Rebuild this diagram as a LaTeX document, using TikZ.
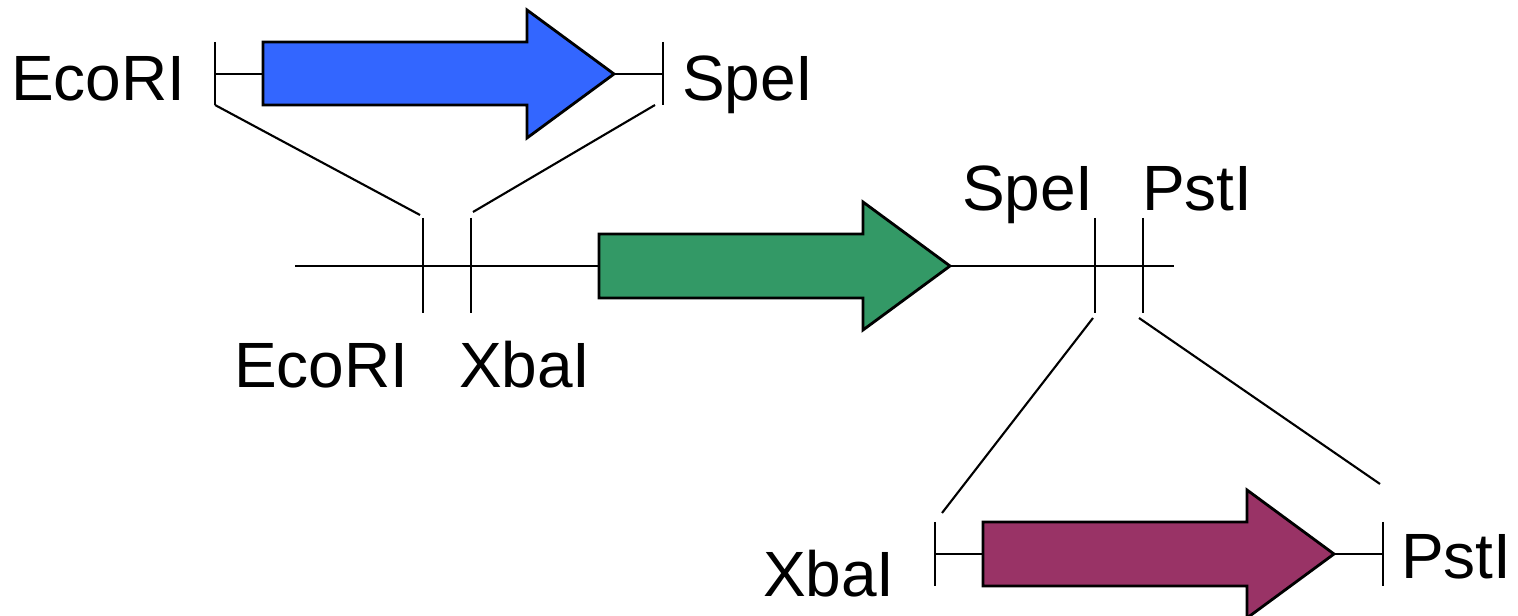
\documentclass[tikz,border=0pt]{standalone}
\usepackage{fontspec}
\setmainfont{Liberation Sans}
\definecolor{geneblue}{HTML}{3366FF}
\definecolor{genegreen}{HTML}{339966}
\definecolor{genepurple}{HTML}{993366}
\begin{document}
\begin{tikzpicture}[x=0.01cm,y=-0.01cm, line width=0.6pt,
  lbl/.style={anchor=base west, inner sep=0pt, font=\fontsize{18.2}{22}\selectfont},
  gene/.style={draw=black, line width=0.8pt, line join=miter}]
\useasboundingbox (0,0) rectangle (1518,616);

% ---------- top part ----------
\coordinate (tEt) at (215,42);  \coordinate (tEb) at (215,105); \coordinate (tEm) at (215,74);
\coordinate (tSt) at (663,42);  \coordinate (tSb) at (663,105); \coordinate (tSm) at (663,74);
\coordinate (blueL) at (263,74); \coordinate (blueT) at (614,74);
\draw (tEt) -- (tEb);
\draw (tSt) -- (tSb);
\draw (tEm) -- (blueL);
\draw (blueT) -- (tSm);
\path[gene, fill=geneblue] (263,42) -- (527,42) -- (527,10) -- (blueT) -- (527,138) -- (527,105) -- (263,105) -- cycle;
\node[lbl] (lEcoTop) at (10,101) {EcoRI};
\node[lbl] (lSpeTop) at (681,101) {SpeI};

% ---------- middle part ----------
\coordinate (mL) at (295,266);
\coordinate (mR) at (1174,266);
\coordinate (mEt) at (423,218); \coordinate (mEb) at (423,313);
\coordinate (mXt) at (471,218); \coordinate (mXb) at (471,313);
\coordinate (mSt) at (1095,218); \coordinate (mSb) at (1095,313);
\coordinate (mPt) at (1143,218); \coordinate (mPb) at (1143,313);
\coordinate (greenL) at (599,266); \coordinate (greenT) at (950,266);
\draw (mL) -- (greenL);
\draw (greenT) -- (mR);
\draw (mEt) -- (mEb);
\draw (mXt) -- (mXb);
\draw (mSt) -- (mSb);
\draw (mPt) -- (mPb);
\path[gene, fill=genegreen] (599,234) -- (863,234) -- (863,202) -- (greenT) -- (863,330) -- (863,298) -- (599,298) -- cycle;
\node[lbl] (lEcoMid) at (233,388) {EcoRI};
\node[lbl] (lXbaMid) at (458,388) {XbaI};
\node[lbl] (lSpeMid) at (961,211) {SpeI};
\node[lbl] (lPstMid) at (1141,211) {PstI};

% ---------- bottom part ----------
\coordinate (bXt) at (935,522); \coordinate (bXb) at (935,586); \coordinate (bXm) at (935,554);
\coordinate (bPt) at (1383,522); \coordinate (bPb) at (1383,586); \coordinate (bPm) at (1383,554);
\coordinate (purpleL) at (983,554); \coordinate (purpleT) at (1334,554);
\draw (bXt) -- (bXb);
\draw (bPt) -- (bPb);
\draw (bXm) -- (purpleL);
\draw (purpleT) -- (bPm);
\path[gene, fill=genepurple] (983,522) -- (1247,522) -- (1247,490) -- (purpleT) -- (1247,618) -- (1247,586) -- (983,586) -- cycle;
\node[lbl] (lXbaBot) at (762,597) {XbaI};
\node[lbl] (lPstBot) at (1400,579) {PstI};

% ---------- zoom lines ----------
\coordinate (z1a) at (215,105); \coordinate (z1b) at (420,215);
\coordinate (z2a) at (655,105); \coordinate (z2b) at (473,212);
\coordinate (z3a) at (1093,318); \coordinate (z3b) at (942,513);
\coordinate (z4a) at (1139,318); \coordinate (z4b) at (1380,484);
\draw (z1a) -- (z1b);
\draw (z2a) -- (z2b);
\draw (z3a) -- (z3b);
\draw (z4a) -- (z4b);
\end{tikzpicture}
\end{document}
